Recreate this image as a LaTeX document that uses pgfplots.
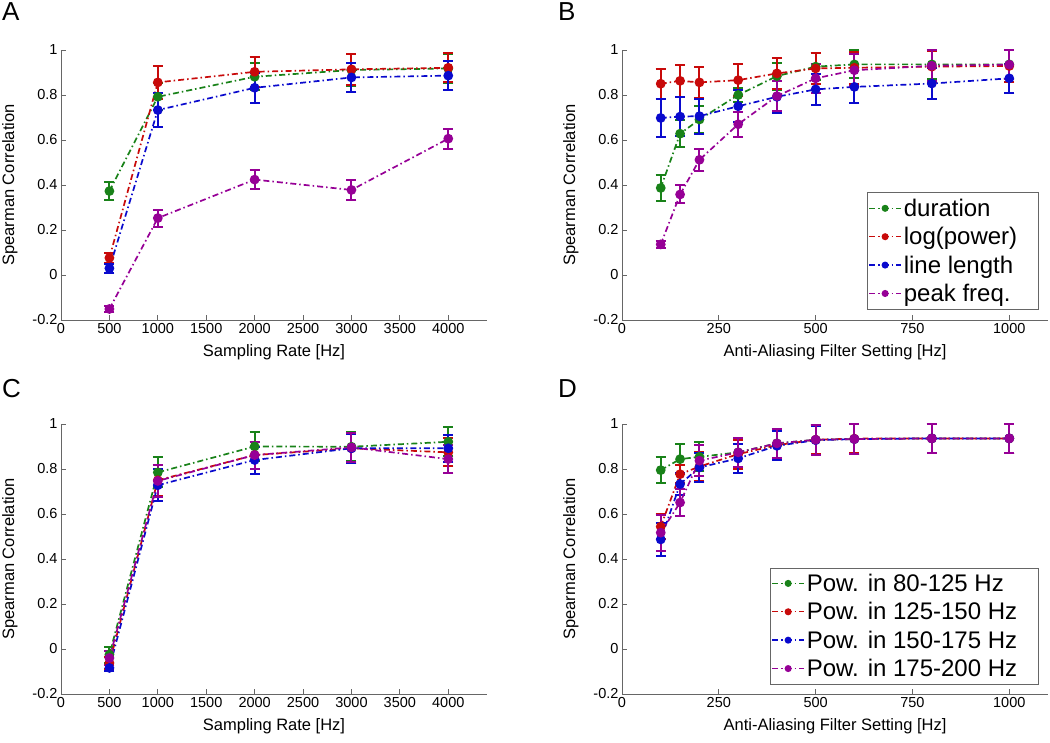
\documentclass[border=0pt]{standalone}
\usepackage{fontspec}
\setmainfont{Liberation Sans}
\usepackage{pgfplots}
\pgfplotsset{compat=1.18}
\definecolor{mgreen}{RGB}{25,130,25}
\definecolor{mred}{RGB}{200,10,10}
\definecolor{mblue}{RGB}{10,10,205}
\definecolor{mpurple}{RGB}{150,0,150}
\newcommand{\rp}{\hspace*{18pt}}
\pgfplotsset{
  myax/.style={
    width=426pt, height=270pt, scale only axis,
    xmin=0, ymin=-0.2, ymax=1,
    axis lines=left, axis line style={draw=black!60,-, line width=0.8pt},
    tick align=inside, major tick length=5pt, tick style={black!60, line width=0.8pt},
    ytick={-0.2,0,0.2,0.4,0.6,0.8,1},
    yticklabels={-0.2,0,0.2,0.4,0.6,0.8,1},
    ticklabel style={font=\fontsize{14.5}{16}\selectfont},
    label style={font=\fontsize{16.5}{19}\selectfont},
    ylabel={Spearman Correlation},
    ylabel style={at={(axis description cs:-0.12,0.5)}, anchor=center},
    xlabel style={at={(axis description cs:0.5,-0.118)}, anchor=center},
    clip=false,
    legend cell align=left,
    legend style={font=\fontsize{24}{27}\selectfont, draw=black!60, line width=0.8pt, inner xsep=1pt, inner ysep=4pt, row sep=5.5pt, outer sep=0pt},
    legend image code/.code={\draw[mark repeat=2,mark phase=2,mark size=2.8pt,#1, line width=1.4pt] plot coordinates {(0pt,0pt) (16pt,0pt) (32pt,0pt)};},
  },
  ser/.style={color=#1, mark=*, line width=1.7pt, dash pattern=on 6pt off 3pt on 1.5pt off 3pt,
    mark size=4pt, mark options={solid, fill=#1},
    error bars/.cd, y dir=both, y explicit,
    error bar style={line width=2pt, solid},
    error mark options={rotate=90, mark size=5pt, line width=2pt, solid}},
}
\begin{document}
\begin{tikzpicture}
\useasboundingbox (0,0) rectangle (1050pt,-743pt);
\node[anchor=base west, font=\fontsize{26}{28}\selectfont, inner sep=0pt] at (2pt,-21pt) {A};
\node[anchor=base west, font=\fontsize{26}{28}\selectfont, inner sep=0pt] at (558pt,-21pt) {B};
\node[anchor=base west, font=\fontsize{26}{28}\selectfont, inner sep=0pt] at (2pt,-398pt) {C};
\node[anchor=base west, font=\fontsize{26}{28}\selectfont, inner sep=0pt] at (558pt,-398pt) {D};

% Panel A
\begin{axis}[myax, at={(61pt,-320pt)}, anchor=south west, xmax=4400,
  xtick={0,500,1000,1500,2000,2500,3000,3500,4000},
  xticklabels={0,500,1000,1500,2000,2500,3000,3500,4000},
  xlabel={Sampling Rate [Hz]}]
\addplot[ser=mgreen] coordinates {(500,0.373) +- (0,0.04) (1000,0.792) +- (0,0.06) (2000,0.881) +- (0,0.06) (3000,0.911) +- (0,0.07) (4000,0.918) +- (0,0.065)};
\addplot[ser=mred] coordinates {(500,0.076) +- (0,0.022) (1000,0.856) +- (0,0.072) (2000,0.903) +- (0,0.067) (3000,0.914) +- (0,0.07) (4000,0.921) +- (0,0.065)};
\addplot[ser=mblue] coordinates {(500,0.030) +- (0,0.02) (1000,0.733) +- (0,0.075) (2000,0.832) +- (0,0.067) (3000,0.878) +- (0,0.065) (4000,0.886) +- (0,0.065)};
\addplot[ser=mpurple] coordinates {(500,-0.151) +- (0,0.015) (1000,0.253) +- (0,0.038) (2000,0.424) +- (0,0.042) (3000,0.378) +- (0,0.046) (4000,0.606) +- (0,0.044)};
\end{axis}

% Panel B
\begin{axis}[myax, at={(622pt,-320pt)}, anchor=south west, xmax=1100,
  xtick={0,250,500,750,1000}, xticklabels={0,250,500,750,1000},
  xlabel={Anti-Aliasing Filter Setting [Hz]},
  legend style={at={(0.977,0.041)}, anchor=south east}]
\addplot[ser=mgreen] coordinates {(100,0.387) +- (0,0.056) (150,0.628) +- (0,0.06) (200,0.691) +- (0,0.06) (300,0.80) +- (0,0.03) (400,0.884) +- (0,0.06) (500,0.926) +- (0,0.06) (600,0.936) +- (0,0.062) (800,0.936) +- (0,0.065) (1000,0.936) +- (0,0.065)};
\addplot[ser=mred] coordinates {(100,0.85) +- (0,0.066) (150,0.863) +- (0,0.07) (200,0.856) +- (0,0.07) (300,0.866) +- (0,0.072) (400,0.896) +- (0,0.07) (500,0.918) +- (0,0.07) (600,0.921) +- (0,0.07) (800,0.926) +- (0,0.07) (1000,0.929) +- (0,0.07)};
\addplot[ser=mblue] coordinates {(100,0.698) +- (0,0.086) (150,0.704) +- (0,0.088) (200,0.706) +- (0,0.078) (300,0.75) +- (0,0.07) (400,0.792) +- (0,0.07) (500,0.825) +- (0,0.07) (600,0.836) +- (0,0.07) (800,0.851) +- (0,0.07) (1000,0.874) +- (0,0.065)};
\addplot[ser=mpurple] coordinates {(100,0.136) +- (0,0.015) (150,0.358) +- (0,0.04) (200,0.512) +- (0,0.05) (300,0.67) +- (0,0.055) (400,0.795) +- (0,0.065) (500,0.874) +- (0,0.065) (600,0.91) +- (0,0.07) (800,0.93) +- (0,0.07) (1000,0.935) +- (0,0.065)};
\legend{duration\rp,log(power)\rp,line length\rp,peak freq.\rp}
\end{axis}

% Panel C
\begin{axis}[myax, at={(61pt,-694pt)}, anchor=south west, xmax=4400,
  xtick={0,500,1000,1500,2000,2500,3000,3500,4000},
  xticklabels={0,500,1000,1500,2000,2500,3000,3500,4000},
  xlabel={Sampling Rate [Hz]}]
\addplot[ser=mgreen] coordinates {(500,-0.025) +- (0,0.035) (1000,0.785) +- (0,0.067) (2000,0.90) +- (0,0.063) (3000,0.899) +- (0,0.065) (4000,0.921) +- (0,0.065)};
\addplot[ser=mred] coordinates {(500,-0.062) +- (0,0.025) (1000,0.75) +- (0,0.07) (2000,0.862) +- (0,0.06) (3000,0.892) +- (0,0.065) (4000,0.874) +- (0,0.062)};
\addplot[ser=mblue] coordinates {(500,-0.084) +- (0,0.015) (1000,0.728) +- (0,0.07) (2000,0.84) +- (0,0.06) (3000,0.892) +- (0,0.065) (4000,0.892) +- (0,0.06)};
\addplot[ser=mpurple] coordinates {(500,-0.04) +- (0,0.03) (1000,0.747) +- (0,0.07) (2000,0.862) +- (0,0.06) (3000,0.896) +- (0,0.065) (4000,0.844) +- (0,0.062)};
\end{axis}

% Panel D
\begin{axis}[myax, at={(622pt,-694pt)}, anchor=south west, xmax=1100,
  xtick={0,250,500,750,1000}, xticklabels={0,250,500,750,1000},
  xlabel={Anti-Aliasing Filter Setting [Hz]},
  legend style={at={(0.977,0.037)}, anchor=south east}]
\addplot[ser=mgreen] coordinates {(100,0.795) +- (0,0.058) (150,0.844) +- (0,0.065) (200,0.854) +- (0,0.065) (300,0.874) +- (0,0.065) (400,0.914) +- (0,0.065) (500,0.930) +- (0,0.065) (600,0.933) +- (0,0.065) (800,0.936) +- (0,0.065) (1000,0.936) +- (0,0.065)};
\addplot[ser=mred] coordinates {(100,0.544) +- (0,0.057) (150,0.777) +- (0,0.04) (200,0.811) +- (0,0.065) (300,0.866) +- (0,0.065) (400,0.906) +- (0,0.065) (500,0.93) +- (0,0.065) (600,0.935) +- (0,0.065) (800,0.936) +- (0,0.065) (1000,0.936) +- (0,0.065)};
\addplot[ser=mblue] coordinates {(100,0.487) +- (0,0.075) (150,0.733) +- (0,0.05) (200,0.807) +- (0,0.065) (300,0.847) +- (0,0.065) (400,0.903) +- (0,0.065) (500,0.928) +- (0,0.065) (600,0.933) +- (0,0.065) (800,0.936) +- (0,0.065) (1000,0.936) +- (0,0.065)};
\addplot[ser=mpurple] coordinates {(100,0.517) +- (0,0.08) (150,0.651) +- (0,0.062) (200,0.837) +- (0,0.068) (300,0.874) +- (0,0.065) (400,0.914) +- (0,0.065) (500,0.93) +- (0,0.067) (600,0.933) +- (0,0.065) (800,0.936) +- (0,0.065) (1000,0.936) +- (0,0.065)};
\legend{Pow. in 80-125 Hz\rp,Pow. in 125-150 Hz\rp,Pow. in 150-175 Hz\rp,Pow. in 175-200 Hz\rp}
\end{axis}
\end{tikzpicture}
\end{document}
